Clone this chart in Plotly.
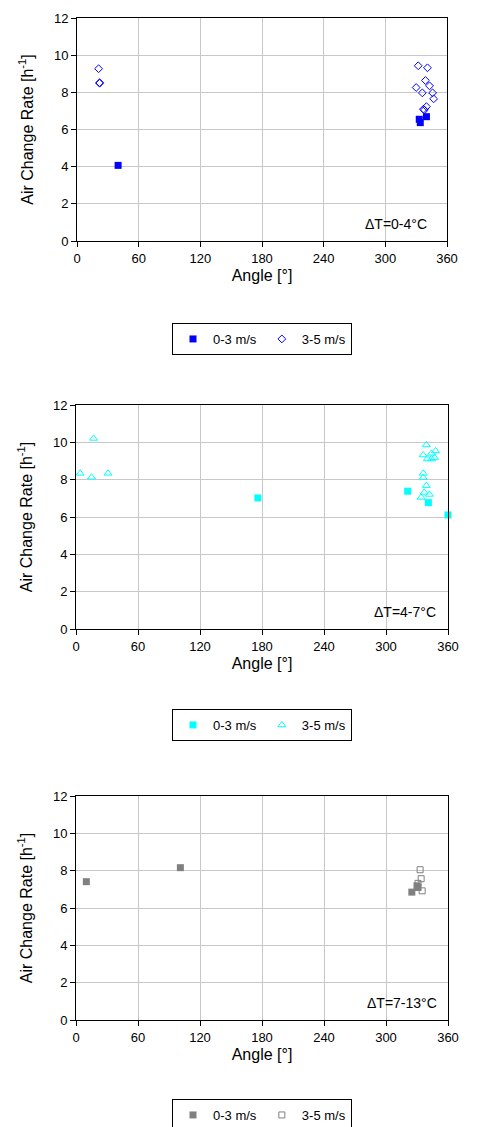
import plotly.graph_objects as go

# angle [deg] and air change rate [1/h] per temperature band and wind class
p1_low_angle = [40, 333, 334, 340]
p1_low_ach = [4.07, 6.55, 6.37, 6.69]
p1_high_angle = [21, 22, 22, 332, 341, 339, 343, 330, 336, 346, 347, 340, 337, 338]
p1_high_ach = [9.27, 8.49, 8.52, 9.43, 9.32, 8.64, 8.35, 8.26, 7.97, 7.97, 7.65, 7.23, 7.09, 7.05]

p2_low_angle = [176, 321, 341, 360]
p2_low_ach = [7.02, 7.38, 6.77, 6.11]
p2_high_angle = [4, 15, 17, 31, 339, 336, 344, 348, 340, 344, 347, 336, 336, 339, 337, 342, 334]
p2_high_ach = [8.34, 8.13, 10.21, 8.34, 9.86, 9.32, 9.41, 9.54, 9.11, 9.11, 9.18, 8.34, 8.11, 7.68, 7.32, 7.21, 7.05]

p3_low_angle = [10, 101, 325, 330, 331]
p3_low_ach = [7.41, 8.16, 6.85, 7.19, 7.10]
p3_high_angle = [333, 334, 331, 335]
p3_high_ach = [8.05, 7.57, 7.32, 6.92]

labels = ["0-3 m/s", "3-5 m/s"]
dt_labels = ["ΔT=0-4°C", "ΔT=4-7°C", "ΔT=7-13°C"]
x_ticks = [0, 60, 120, 180, 240, 300, 360]
y_ticks = [0, 2, 4, 6, 8, 10, 12]

W, H = 477, 1127
OFF = 8  # page body margin of the html file
FONT = "Liberation Sans, Arial, sans-serif"

panels = [
    dict(low=(p1_low_angle, p1_low_ach), high=(p1_high_angle, p1_high_ach),
         low_m=dict(symbol="square", size=7, color="#0000ff"),
         high_m=dict(symbol="diamond-open", size=6, color="#0000ff", line=dict(width=1)),
         top=18, bottom=241, left=77, right=447, legend_top=323, ann_x=0.951),
    dict(low=(p2_low_angle, p2_low_ach), high=(p2_high_angle, p2_high_ach),
         low_m=dict(symbol="square", size=7, color="#00ffff"),
         high_m=dict(symbol="triangle-up-open", size=7, color="#00ffff", line=dict(width=1)),
         top=405, bottom=629, left=76, right=448, legend_top=709, ann_x=0.973),
    dict(low=(p3_low_angle, p3_low_ach), high=(p3_high_angle, p3_high_ach),
         low_m=dict(symbol="square", size=7, color="#808080"),
         high_m=dict(symbol="square-open", size=6, color="#808080", line=dict(width=1)),
         top=796, bottom=1020, left=76, right=448, legend_top=1099, ann_x=0.976),
]

fig = go.Figure()
layout = dict(
    width=W, height=H,
    margin=dict(l=0, r=0, t=0, b=0, autoexpand=False),
    paper_bgcolor="white", plot_bgcolor="white",
    font=dict(family=FONT, size=13, color="black"),
    annotations=[],
)

for i, p in enumerate(panels, start=1):
    sfx = "" if i == 1 else str(i)
    leg = "legend" if i == 1 else f"legend{i}"
    for (xs, ys), m, name in [(p["low"], p["low_m"], labels[0]), (p["high"], p["high_m"], labels[1])]:
        fig.add_trace(go.Scatter(
            x=xs, y=ys, mode="markers", name=name, marker=m,
            xaxis=f"x{sfx}", yaxis=f"y{sfx}", legend=leg, cliponaxis=False,
        ))
    layout[f"xaxis{sfx}"] = dict(
        domain=[(p["left"] - OFF) / W, (p["right"] - OFF) / W], anchor=f"y{sfx}",
        range=[0, 360], tickvals=x_ticks, showgrid=True, gridcolor="#c8c8c8",
        showline=True, linecolor="black", linewidth=1, mirror=True,
        ticks="outside", ticklen=5, tickcolor="black", zeroline=False, automargin=False,
        title=dict(text="Angle [°]", standoff=5), tickfont=dict(size=13),
    )
    layout[f"yaxis{sfx}"] = dict(
        domain=[1 - (p["bottom"] - OFF) / H, 1 - (p["top"] - OFF) / H], anchor=f"x{sfx}",
        range=[0, 12], tickvals=y_ticks, showgrid=True, gridcolor="#c8c8c8",
        showline=True, linecolor="black", linewidth=1, mirror=True,
        ticks="outside", ticklen=5, tickcolor="black", zeroline=False, automargin=False,
        title=dict(text="Air Change Rate [h<sup>-1</sup>]", standoff=16), tickfont=dict(size=13),
    )
    layout[leg] = dict(
        orientation="h", x=(262 - OFF) / W, xanchor="center",
        y=1 - (p["legend_top"] - OFF) / H, yanchor="top",
        bordercolor="black", borderwidth=1, bgcolor="white", itemwidth=30,
        font=dict(size=13), tracegroupgap=0,
    )
    layout["annotations"].append(dict(
        text=dt_labels[i - 1], xref=f"x{sfx} domain", yref=f"y{sfx} domain",
        x=p["ann_x"], y=0.077, xanchor="right", yanchor="middle", showarrow=False,
        font=dict(size=14),
    ))

fig.update_layout(**layout)
fig.write_html("out.html")
